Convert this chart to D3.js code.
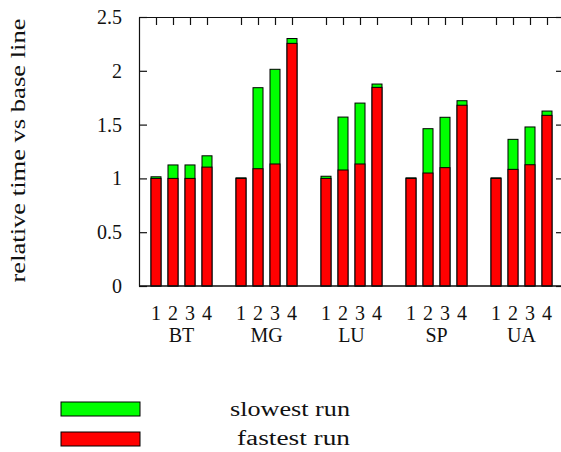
<!DOCTYPE html>
<html><head><meta charset="utf-8">
<script src="https://cdn.jsdelivr.net/npm/d3@7"></script>
<style>
body{margin:0;background:#fff;}
svg{display:block;}
</style></head>
<body>
<svg id="c" width="561" height="452"></svg>
<script>
const groups = ["BT","MG","LU","SP","UA"];
const runs = ["1","2","3","4"];
const fastest = [
  [1.00, 1.00, 1.00, 1.105],
  [1.00, 1.09, 1.134, 2.255],
  [1.00, 1.078, 1.134, 1.846],
  [1.00, 1.05, 1.10, 1.68],
  [1.00, 1.084, 1.127, 1.586]
];
const slowest = [
  [1.015, 1.125, 1.125, 1.21],
  [1.005, 1.843, 2.014, 2.30],
  [1.02, 1.57, 1.70, 1.877],
  [1.005, 1.462, 1.568, 1.722],
  [1.005, 1.363, 1.478, 1.626]
];
const yTicks = [0, 0.5, 1, 1.5, 2, 2.5];
const yTickLabels = ["0","0.5","1","1.5","2","2.5"];
const legendLabels = ["slowest run","fastest run"];

const FONT = '"Liberation Serif","DejaVu Serif","Noto Serif","Times New Roman",Times,serif';
const svg = d3.select("#c").attr("font-family", FONT);
const L = 139, R = 564, T = 17, B = 286;
const x = d3.scaleLinear().domain([-1, 24]).range([L, R]);
const y = d3.scaleLinear().domain([0, 2.5]).range([B, T]);
const slot = (g, r) => g * 5 + r;
const bw = 10;
const FS = 20;

const bars = [];
groups.forEach((g, gi) => runs.forEach((r, ri) => {
  bars.push({gi, ri, s: slot(gi, ri), fast: fastest[gi][ri], slow: slowest[gi][ri]});
}));

// Left axis (ticks inward)
const yAxis = d3.axisLeft(y).tickValues(yTicks).tickFormat((d,i) => yTickLabels[i])
  .tickSizeInner(-8).tickSizeOuter(0).tickPadding(17);
const gl = svg.append("g").attr("transform", `translate(${L},0)`).call(yAxis)
  .attr("font-family", FONT).attr("font-size", FS);
gl.selectAll("text").attr("fill", "#111");
gl.selectAll("line,path").attr("stroke", "#111").attr("stroke-width", 1.2);

// Right axis (ticks inward)
const gr = svg.append("g").attr("transform", `translate(${R},0)`)
  .call(d3.axisRight(y).tickValues(yTicks).tickFormat("").tickSizeInner(-8).tickSizeOuter(0));
gr.selectAll("line,path").attr("stroke", "#111").attr("stroke-width", 1.2);

// Top axis (ticks inward at each bar)
const gt = svg.append("g").attr("transform", `translate(0,${T})`)
  .call(d3.axisTop(x).tickValues(bars.map(d => d.s)).tickFormat("").tickSizeInner(-8).tickSizeOuter(0));
gt.selectAll("line,path").attr("stroke", "#111").attr("stroke-width", 1.2);

// green (slowest) full bars
svg.append("g").selectAll("rect").data(bars).join("rect")
  .attr("x", d => x(d.s) - bw/2).attr("width", bw)
  .attr("y", d => y(d.slow)).attr("height", d => y(0) - y(d.slow))
  .attr("fill", "#00ff00").attr("stroke", "#000").attr("stroke-width", 1);
// red (fastest) bars
svg.append("g").selectAll("rect").data(bars).join("rect")
  .attr("x", d => x(d.s) - bw/2).attr("width", bw)
  .attr("y", d => y(d.fast)).attr("height", d => y(0) - y(d.fast))
  .attr("fill", "#ff0000").attr("stroke", "#000").attr("stroke-width", 1);

// Bottom axis line
svg.append("line").attr("x1", L).attr("x2", R).attr("y1", B).attr("y2", B)
  .attr("stroke", "#111").attr("stroke-width", 1.5);

const txt = svg.append("g").attr("font-family", FONT).attr("font-size", FS).attr("fill", "#111");
// run labels and group labels
txt.append("g").selectAll("text").data(bars).join("text")
  .attr("x", d => x(d.s)).attr("y", 320).attr("text-anchor", "middle")
  .text(d => runs[d.ri]);
txt.append("g").selectAll("text").data(groups).join("text")
  .attr("x", (g, gi) => (x(slot(gi,0)) + x(slot(gi,3))) / 2).attr("y", 342)
  .attr("text-anchor", "middle").text(g => g);

// Y label
txt.append("text").attr("transform", "translate(25,150.5) rotate(-90)")
  .attr("text-anchor", "middle")
  .attr("textLength", 264).attr("lengthAdjust", "spacingAndGlyphs")
  .text("relative time vs base line");

// Legend
const legColors = ["#00ff00", "#ff0000"];
const legY = [402, 432];
const legBase = [416, 445];
const legStart = [230, 237];
legendLabels.forEach((t, i) => {
  svg.append("rect").attr("x", 61).attr("y", legY[i]).attr("width", 79).attr("height", 14)
    .attr("fill", legColors[i]).attr("stroke", "#000").attr("stroke-width", 1);
  txt.append("text").attr("x", legStart[i]).attr("y", legBase[i])
    .attr("textLength", 350 - legStart[i]).attr("lengthAdjust", "spacingAndGlyphs")
    .text(t);
});
</script>
</body></html>
